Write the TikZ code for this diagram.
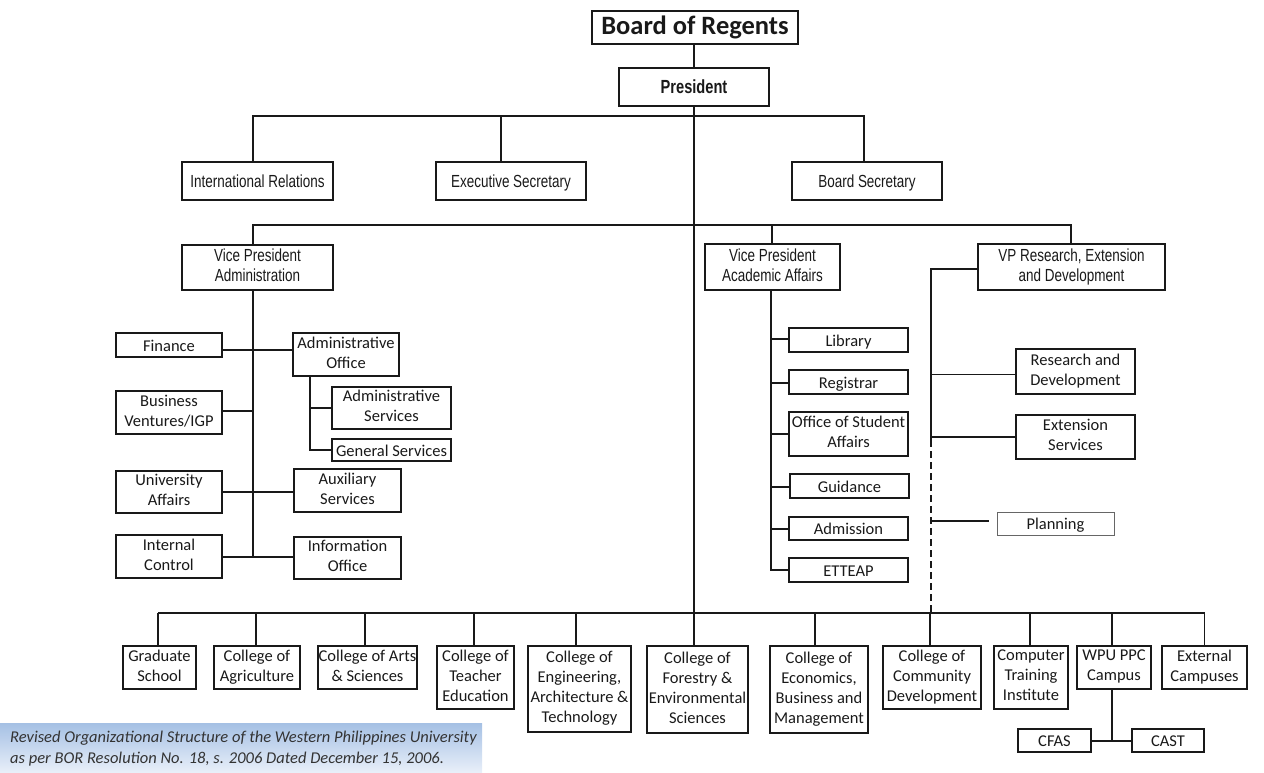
\documentclass[tikz,border=0pt]{standalone}
\usepackage{fontspec}
\setmainfont{Carlito}
\newfontfamily\narrowfont[FakeStretch=0.77]{Liberation Sans}
\usetikzlibrary{calc}
\definecolor{inkc}{RGB}{25,25,25}
\definecolor{captop}{RGB}{165,192,228}
\definecolor{capbot}{RGB}{232,239,249}
\newcommand{\topstrut}{\rule{0pt}{16pt}}
\newcommand{\botstrut}{\rule[-4pt]{0pt}{4pt}}
\newcommand{\mltopstrut}{\rule{0pt}{18.5pt}}
\newcommand{\mlbotstrut}{\rule[-1.5pt]{0pt}{1.5pt}}
\tikzset{
  ln/.style={line width=1.8pt, draw=inkc},
  dashln/.style={ln, dash pattern=on 7pt off 4pt},
  box/.style={draw=inkc, line width=1.8pt, inner sep=0pt, align=center,
    font=\fontsize{16.5}{20}\selectfont, text=inkc,
    execute at begin node=\topstrut, execute at end node=\botstrut},
  ml/.style={execute at begin node=\mltopstrut, execute at end node=\mlbotstrut},
  nbox/.style={box, font=\narrowfont\fontsize{17.5}{20}\selectfont},
  thinbox/.style={box, draw=black!60, line width=1pt},
}
\newcommand{\orgbox}[7][]{%
  \node[box,#1,minimum width={#5-#3}, minimum height={#6-#4}] (#2) at ({(#3+#5)/2},{(#4+#6)/2}) {#7};}
\begin{document}
\begin{tikzpicture}[x=1pt,y=-1pt]
\useasboundingbox (0,0) rectangle (1264,772);

% caption background
\shade[top color=captop, bottom color=capbot] (0,723) rectangle (482,772);
\node[anchor=west, align=left, inner sep=0pt, text=black!80,
  font=\itshape\fontsize{16.5}{21}\selectfont] (cap) at (10,749)
  {Revised Organizational Structure of the Western Philippines University\\as per BOR Resolution No. 18, s. 2006 Dated December 15, 2006.};

% top
\orgbox[font=\bfseries\fontsize{26.5}{30}\selectfont]{bor}{592}{11}{798}{44}{Board of Regents}
\orgbox[nbox, font=\narrowfont\bfseries\fontsize{19}{20}\selectfont]{pres}{619}{68}{769}{106}{President}
\orgbox[nbox]{ir}{182}{162}{333}{200}{International Relations}
\orgbox[nbox]{es}{436}{162}{586}{200}{Executive Secretary}
\orgbox[nbox]{bs}{792}{162}{942}{200}{Board Secretary}
\orgbox[nbox,ml]{vpa}{182}{245}{333}{290}{Vice President\\Administration}
\orgbox[nbox,ml]{vpaa}{705}{244}{840}{290}{Vice President\\Academic Affairs}
\orgbox[nbox,ml]{vpr}{978}{244}{1165}{290}{VP Research, Extension\\and Development}

% administration
\orgbox{fin}{116}{333}{222}{357}{Finance}
\orgbox[ml]{ao}{293}{333}{399}{376}{Administrative\\Office}
\orgbox[ml]{as}{332}{387}{451}{429}{Administrative\\Services}
\orgbox{gs}{332}{439}{451}{461}{General Services}
\orgbox[ml]{bv}{116}{391}{222}{434}{Business\\Ventures/IGP}
\orgbox[ml]{ua}{116}{471}{222}{513}{University\\Affairs}
\orgbox[ml]{aux}{294}{469}{401}{512}{Auxiliary\\Services}
\orgbox[ml]{ic}{116}{535}{222}{578}{Internal\\Control}
\orgbox[ml]{io}{294}{537}{401}{579}{Information\\Office}

% academic affairs
\orgbox{lib}{789}{328}{908}{352}{Library}
\orgbox{reg}{789}{370}{908}{394}{Registrar}
\orgbox[ml]{osa}{789}{412}{908}{456}{Office of Student\\Affairs}
\orgbox{gui}{790}{474}{909}{498}{Guidance}
\orgbox{adm}{789}{517}{908}{540}{Admission}
\orgbox{ett}{789}{558}{908}{582}{ETTEAP}

% research
\orgbox[ml]{rd}{1016}{349}{1135}{394}{Research and\\Development}
\orgbox[ml]{ext}{1016}{415}{1135}{459}{Extension\\Services}
\orgbox[thinbox]{plan}{997}{512}{1114}{535}{Planning}

% colleges
\orgbox[ml]{gsch}{123}{646}{196}{689}{Graduate\\School}
\orgbox[ml]{cag}{214}{646}{300}{689}{College of\\Agriculture}
\orgbox[ml]{cas}{318}{646}{417}{689}{College of Arts\\\& Sciences}
\orgbox[ml]{cte}{437}{646}{514}{709}{College of\\Teacher\\Education}
\orgbox[ml]{ceat}{528}{646}{631}{732}{College of\\Engineering,\\Architecture \&\\Technology}
\orgbox[ml]{cfes}{647}{646}{748}{733}{College of\\Forestry \&\\Environmental\\Sciences}
\orgbox[ml]{cebm}{770}{646}{868}{733}{College of\\Economics,\\Business and\\Management}
\orgbox[ml]{ccd}{883}{646}{981}{709}{College of\\Community\\Development}
\orgbox[ml]{cti}{994}{646}{1068}{709}{Computer\\Training\\Institute}
\orgbox[ml]{wpu}{1077}{646}{1151}{689}{WPU PPC\\Campus}
\orgbox[ml]{exc}{1162}{646}{1247}{689}{External\\Campuses}
\orgbox{cfas}{1018}{729}{1091}{752}{CFAS}
\orgbox{cast}{1132}{729}{1204}{752}{CAST}

% ---- connectors ----
% main trunk
\draw[ln] (pres.north |- bor.south) -- (pres.north);
\draw[ln] (pres.south) -- (pres.south |- cfes.north);

% line 1
\coordinate (a1) at (253,116);
\coordinate (a2) at (501,116);
\coordinate (a3) at (864,116);
\draw[ln] (a1 |- ir.north) -- (a1) -- (a3) -- (a3 |- bs.north);
\draw[ln] (a2) -- (a2 |- es.north);

% line 2
\coordinate (b1) at (253,225);
\coordinate (b2) at (772,225);
\coordinate (b3) at (1071,225);
\draw[ln] (b1 |- vpa.north) -- (b1) -- (b3) -- (b3 |- vpr.north);
\draw[ln] (b2) -- (b2 |- vpaa.north);

% administration tree
\coordinate (t1) at (253,557);
\draw[ln] (b1 |- vpa.south) -- (t1);
\coordinate (yf) at (0,350);
\coordinate (yb) at (0,411);
\coordinate (yu) at (0,492);
\draw[ln] (fin.east |- yf) -- (ao.west |- yf);
\draw[ln] (bv.east |- yb) -- (t1 |- yb);
\draw[ln] (ua.east |- yu) -- (aux.west |- yu);
\draw[ln] (ic.east |- t1) -- (io.west |- t1);
\coordinate (s1) at (310,450);
\draw[ln] (s1 |- ao.south) -- (s1) -- (gs.west |- s1);
\draw[ln] (s1 |- as.west) -- (as.west);

% academic affairs tree
\coordinate (v1) at (771,570);
\draw[ln] (v1 |- vpaa.south) -- (v1) -- (ett.west |- v1);
\coordinate (ylib) at (0,339);
\coordinate (yreg) at (0,383);
\coordinate (yosa) at (0,434);
\coordinate (ygui) at (0,487);
\coordinate (yadm) at (0,529);
\draw[ln] (v1 |- ylib) -- (lib.west |- ylib);
\draw[ln] (v1 |- yreg) -- (reg.west |- yreg);
\draw[ln] (v1 |- yosa) -- (osa.west |- yosa);
\draw[ln] (v1 |- ygui) -- (gui.west |- ygui);
\draw[ln] (v1 |- yadm) -- (adm.west |- yadm);

% research tree
\coordinate (r1) at (931,269);
\coordinate (r2) at (931,440);
\coordinate (r3) at (931,613);
\coordinate (pl) at (989,521);
\coordinate (yrd) at (0,374.5);
\draw[ln] (vpr.west |- r1) -- (r1) -- (r2);
\draw[dashln] (r2) -- (r3);
\draw[ln] (r1 |- yrd) -- (rd.west |- yrd);
\draw[ln] (r1 |- ext.west) -- (ext.west);
\draw[ln] (r1 |- pl) -- (pl);

% colleges bus
\coordinate (c1) at (158,613);
\coordinate (c2) at (256,613);
\coordinate (c3) at (365,613);
\coordinate (c4) at (474,613);
\coordinate (c5) at (576,613);
\coordinate (c7) at (815,613);
\coordinate (c8) at (930,613);
\coordinate (c9) at (1030,613);
\coordinate (c10) at (1112,613);
\coordinate (c11) at (1204.5,613);
\draw[ln] (c1) -- (c11);
\draw[ln] (c1) -- (c1 |- gsch.north);
\draw[ln] (c2) -- (c2 |- cag.north);
\draw[ln] (c3) -- (c3 |- cas.north);
\draw[ln] (c4) -- (c4 |- cte.north);
\draw[ln] (c5) -- (c5 |- ceat.north);
\draw[ln] (c7) -- (c7 |- cebm.north);
\draw[ln] (c8) -- (c8 |- ccd.north);
\draw[ln] (c9) -- (c9 |- cti.north);
\draw[ln] (c10) -- (c10 |- wpu.north);
\draw[ln] (c11) -- (c11 |- exc.north);
\coordinate (w1) at (1112,741);
\draw[ln] (w1 |- wpu.south) -- (w1);
\draw[ln] (cfas.east |- w1) -- (cast.west |- w1);
\end{tikzpicture}
\end{document}
